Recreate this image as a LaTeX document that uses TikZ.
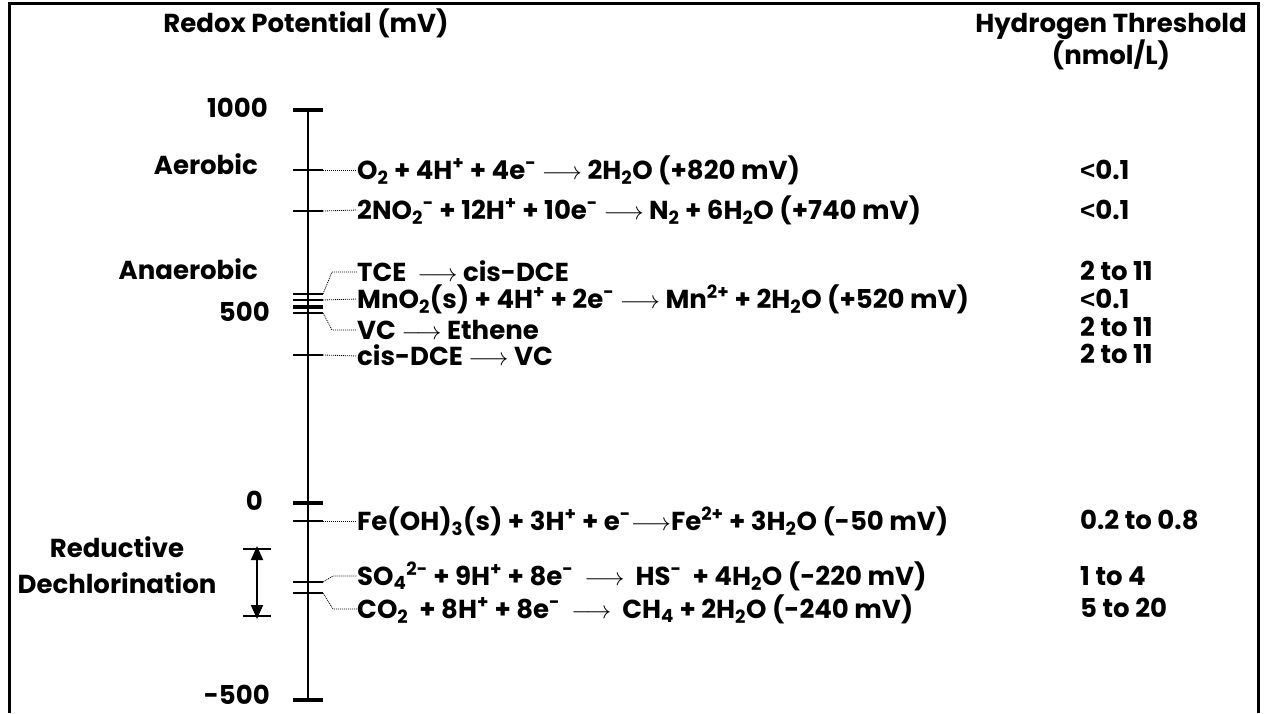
\documentclass[tikz,border=0pt]{standalone}
\usepackage{fontspec}
\setmainfont{Poppins}
\newfontfamily\symfont{Liberation Sans}
\usetikzlibrary{arrows.meta,positioning}
\newcommand{\dn}[1]{\textsubscript{#1}}
\newcommand{\up}[1]{\textsuperscript{#1}}
\newcommand{\arr}{$\longrightarrow$}
\newcommand{\lessthan}{{\symfont\bfseries<}}
\tikzset{
  lbl/.style={font=\fontsize{26}{30}\selectfont\bfseries, inner sep=0pt},
  rxn/.style={lbl, anchor=west, text height=18pt, text depth=0pt},
  guide/.style={line width=0.8pt, dash pattern=on 1pt off 1pt},
  tick/.style={line width=1.5pt},
  major/.style={line width=4.5pt},
  span/.style={line width=1.8pt, {Triangle[length=14pt,width=12pt]}-{Triangle[length=14pt,width=12pt]}},
}

\begin{document}
\begin{tikzpicture}[x=1pt,y=-1pt]
\useasboundingbox (0,0) rectangle (1266,713);
\draw[line width=3pt] (9,713) -- (9,3) -- (1258,3) -- (1258,713);

% headers
\node[lbl,anchor=base] (hdr-redox) at (306,32) {Redox Potential (mV)};
\node[lbl,anchor=base] (hdr-h2) at (1111,32) {Hydrogen Threshold};
\node[lbl,anchor=base] (hdr-unit) at (1111,64) {(nmol/L)};

% axis
\draw[line width=2pt] (308,110) -- (308,700);
\foreach \y in {110,307,503,700}
  \draw[major] (293,\y) -- (323,\y);

\node[lbl,anchor=base east] (v-1000) at (268,117) {1000};
\node[lbl,anchor=base east] (v-500) at (270,321) {500};
\node[lbl,anchor=base east] (v-0) at (263,510) {0};
\node[lbl,anchor=base east] (v-m500) at (270,704) {-500};

\node[lbl,anchor=base east] (aerobic) at (258,174) {Aerobic};
\node[lbl,anchor=base east] (anaerobic) at (258,279) {Anaerobic};
\node[lbl,anchor=base] (reductive) at (117,557) {Reductive};
\node[lbl,anchor=base] (dechlor) at (117,593) {Dechlorination};

% bracket
\coordinate (br-top) at (257,549);
\coordinate (br-bot) at (257,616);
\draw[tick] ([xshift=-14pt]br-top) -- ([xshift=14pt]br-top);
\draw[tick] ([xshift=-14pt]br-bot) -- ([xshift=14pt]br-bot);
\draw[span] ([yshift=3pt]br-top) -- ([yshift=-3pt]br-bot);

% reaction ticks
\foreach \n/\y in {o2/170,no2/211,tce/294,mno2/300,vc/313,dce/355,fe/521,so4/582,co2/593}
  {
    \draw[tick] (293,\y) -- (323,\y);
    \coordinate (t-\n) at (323,\y);
  }

% reactions
\node[rxn] (r-o2) at (357,170) {O\dn{2} + 4H\up{+} + 4e\up{-} \arr{} 2H\dn{2}O (+820 mV)};
\node[rxn] (r-no2) at (357,210) {2NO\dn{2}\up{-} + 12H\up{+} + 10e\up{-} \arr{} N\dn{2} + 6H\dn{2}O (+740 mV)};
\node[rxn] (r-tce) at (357,272) {TCE \ \arr{} cis-DCE};
\node[rxn] (r-mno2) at (357,299) {MnO\dn{2}(s) + 4H\up{+} + 2e\up{-} \arr{} Mn\up{2+} + 2H\dn{2}O (+520 mV)};
\node[rxn] (r-vc) at (357,330) {VC \arr{} Ethene};
\node[rxn] (r-dce) at (357,356) {cis-DCE \arr{} VC};
\node[rxn] (r-fe) at (357,521) {Fe(OH)\dn{3}(s) + 3H\up{+} + e\up{-}\arr{}Fe\up{2+} + 3H\dn{2}O (-50 mV)};
\node[rxn] (r-so4) at (357,576) {SO\dn{4}\up{2-} + 9H\up{+} + 8e\up{-} \ \arr{} \ HS\up{-} \ + 4H\dn{2}O (-220 mV)};
\node[rxn] (r-co2) at (357,609) {CO\dn{2} \ + 8H\up{+} + 8e\up{-} \ \arr{} \ CH\dn{4} + 2H\dn{2}O (-240 mV)};

\draw[guide] (t-o2) -- (r-o2.west);
\draw[guide] (t-no2) -- (r-no2.west);
\draw[guide] (t-tce) -- ++(9,-22) -- (r-tce.west);
\draw[guide] (t-mno2) -- (r-mno2.west);
\draw[guide] (t-vc) -- ++(9,17) -- (r-vc.west);
\draw[guide] (t-dce) -- (r-dce.west);
\draw[guide] (t-fe) -- (r-fe.west);
\draw[guide] (t-so4) -- ++(10,-6) -- (r-so4.west);
\draw[guide] (t-co2) -- ++(10,16) -- (r-co2.west);

% hydrogen thresholds
\node[rxn] (h-o2) at (1080,170) {\lessthan0.1};
\node[rxn] (h-no2) at (1080,210) {\lessthan0.1};
\node[rxn] (h-tce) at (1080,271) {2 to 11};
\node[rxn] (h-mno2) at (1080,299) {\lessthan0.1};
\node[rxn] (h-vc) at (1080,327) {2 to 11};
\node[rxn] (h-dce) at (1080,354) {2 to 11};
\node[rxn] (h-fe) at (1080,520) {0.2 to 0.8};
\node[rxn] (h-so4) at (1080,576) {1 to 4};
\node[rxn] (h-co2) at (1080,608) {5 to 20};
\end{tikzpicture}
\end{document}
